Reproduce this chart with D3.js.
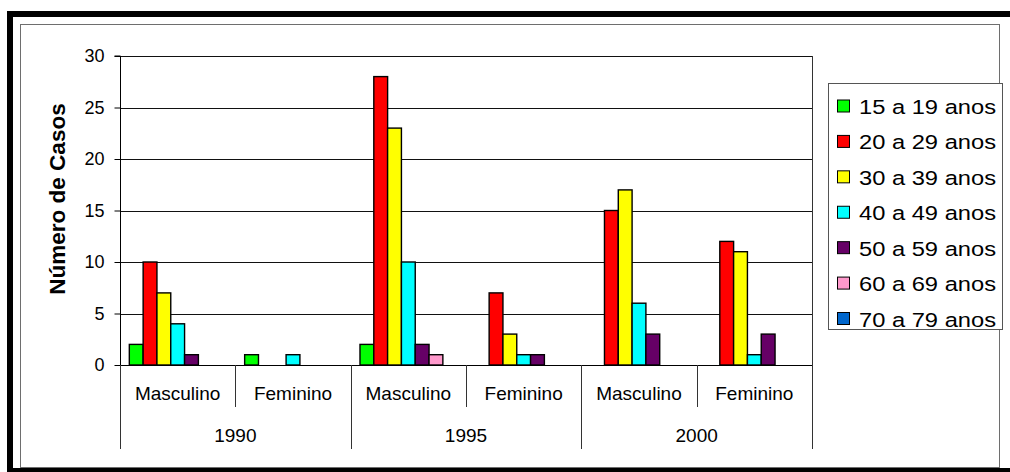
<!DOCTYPE html>
<html>
<head>
<meta charset="utf-8">
<script src="https://cdn.jsdelivr.net/npm/d3@7"></script>
<style>
  html, body { margin: 0; padding: 0; background: #fff; }
  svg { display: block; font-family: "Liberation Sans", Arial, sans-serif; }
</style>
</head>
<body>
<svg id="chart" width="1010" height="472"></svg>
<script>
// Categories: year x sex
const years = ["1990", "1995", "2000"];
const sexes = ["Masculino", "Feminino"];

// Age groups (series) and their colours
const ageGroups = ["15 a 19 anos", "20 a 29 anos", "30 a 39 anos", "40 a 49 anos",
                   "50 a 59 anos", "60 a 69 anos", "70 a 79 anos"];
const ageColors = ["#00ff00", "#ff0000", "#ffff00", "#00ffff", "#660066", "#ff99cc", "#0066cc"];

// Cases per category: 1990 M, 1990 F, 1995 M, 1995 F, 2000 M, 2000 F
const cases15to19 = [2, 1, 2, 0, 0, 0];
const cases20to29 = [10, 0, 28, 7, 15, 12];
const cases30to39 = [7, 0, 23, 3, 17, 11];
const cases40to49 = [4, 1, 10, 1, 6, 1];
const cases50to59 = [1, 0, 2, 1, 3, 3];
const cases60to69 = [0, 0, 1, 0, 0, 0];
const cases70to79 = [0, 0, 0, 0, 0, 0];

const yTicks = [0, 5, 10, 15, 20, 25, 30];
const yTitle = "Número de Casos";

const seriesValues = [cases15to19, cases20to29, cases30to39, cases40to49,
                      cases50to59, cases60to69, cases70to79];

const categories = [];
years.forEach(y => sexes.forEach(s => categories.push({ key: y + "|" + s, year: y, sex: s })));

const svg = d3.select("#chart");

// Outer frame: thick black border and thin inner line
svg.append("rect").attr("x", 10).attr("y", 14).attr("width", 1010).attr("height", 457)
  .attr("fill", "none").attr("stroke", "#000").attr("stroke-width", 6);
svg.append("rect").attr("x", 20.5).attr("y", 24.5).attr("width", 979).attr("height", 443)
  .attr("fill", "none").attr("stroke", "#6e6e6e").attr("stroke-width", 1);

// Plot area
const plot = { left: 120, right: 812, top: 56, bottom: 365 };

const x0 = d3.scaleBand()
  .domain(categories.map(c => c.key))
  .range([plot.left, plot.right])
  .padding(0);

const x1 = d3.scaleBand()
  .domain(ageGroups)
  .range([0, x0.bandwidth()])
  .paddingInner(0)
  .paddingOuter(0.675);

const y = d3.scaleLinear().domain([0, 30]).range([plot.bottom, plot.top]);

// Gridlines
svg.append("g")
  .selectAll("line")
  .data(yTicks.filter(t => t > 0))
  .join("line")
  .attr("x1", plot.left).attr("x2", plot.right)
  .attr("y1", d => Math.round(y(d)) + 0.5).attr("y2", d => Math.round(y(d)) + 0.5)
  .attr("stroke", "#111").attr("stroke-width", 1);

// Plot border (right side)
svg.append("line")
  .attr("x1", plot.right + 0.5).attr("x2", plot.right + 0.5)
  .attr("y1", plot.top).attr("y2", plot.bottom)
  .attr("stroke", "#333").attr("stroke-width", 1);

// Y axis
const yAxis = d3.axisLeft(y)
  .tickValues(yTicks)
  .tickSize(6)
  .tickPadding(10)
  .tickFormat(d3.format("d"));
const yAxisG = svg.append("g")
  .attr("transform", `translate(${plot.left + 0.5},0)`)
  .call(yAxis);
yAxisG.select(".domain").attr("stroke", "#000").attr("d", `M-6,${plot.top}H0V${plot.bottom}`);
yAxisG.selectAll(".tick line").attr("stroke", "#000");
yAxisG.selectAll(".tick text")
  .attr("fill", "#000")
  .style("font-size", "18px")
  .style("font-family", "'Liberation Sans', Arial, sans-serif");

// Y axis title
svg.append("text")
  .attr("transform", "translate(65,199) rotate(-90)")
  .attr("text-anchor", "middle")
  .style("font-size", "22.5px")
  .style("font-weight", "bold")
  .attr("fill", "#000")
  .text(yTitle);

// Bars
const barData = [];
categories.forEach((c, ci) => {
  ageGroups.forEach((g, gi) => {
    const v = seriesValues[gi][ci];
    if (v > 0) barData.push({ cat: c.key, group: g, value: v, color: ageColors[gi] });
  });
});

svg.append("g")
  .selectAll("rect")
  .data(barData)
  .join("rect")
  .attr("x", d => x0(d.cat) + x1(d.group))
  .attr("y", d => y(d.value))
  .attr("width", x1.bandwidth())
  .attr("height", d => y(0) - y(d.value))
  .attr("fill", d => d.color)
  .attr("stroke", "#000")
  .attr("stroke-width", 1.4);

// X axis baseline
svg.append("line")
  .attr("x1", plot.left).attr("x2", plot.right)
  .attr("y1", plot.bottom + 0.5).attr("y2", plot.bottom + 0.5)
  .attr("stroke", "#000");

// Category axis: inner dividers (sex) and outer dividers (year)
const axisG = svg.append("g");
categories.forEach((c, i) => {
  const xl = x0(c.key);
  const isYearStart = i % sexes.length === 0;
  axisG.append("line")
    .attr("x1", Math.round(xl) + 0.5).attr("x2", Math.round(xl) + 0.5)
    .attr("y1", plot.bottom).attr("y2", isYearStart ? 449 : 407)
    .attr("stroke", "#333");
  axisG.append("text")
    .attr("x", xl + x0.bandwidth() / 2)
    .attr("y", 400)
    .attr("text-anchor", "middle")
    .style("font-size", "19px")
    .attr("fill", "#000")
    .text(c.sex);
});
axisG.append("line")
  .attr("x1", plot.right + 0.5).attr("x2", plot.right + 0.5)
  .attr("y1", plot.bottom).attr("y2", 449)
  .attr("stroke", "#333");
years.forEach(yr => {
  const first = x0(yr + "|" + sexes[0]);
  const last = x0(yr + "|" + sexes[sexes.length - 1]) + x0.bandwidth();
  axisG.append("text")
    .attr("x", (first + last) / 2)
    .attr("y", 442)
    .attr("text-anchor", "middle")
    .style("font-size", "19px")
    .attr("fill", "#000")
    .text(yr);
});

// Legend
const legend = svg.append("g");
legend.append("rect")
  .attr("x", 828.5).attr("y", 83.5).attr("width", 174).attr("height", 246)
  .attr("fill", "#fff").attr("stroke", "#555").attr("stroke-width", 1);
const legendRow = d3.scalePoint().domain(ageGroups).range([106.5, 319]);
ageGroups.forEach((g, i) => {
  const cy = legendRow(g);
  legend.append("rect")
    .attr("x", 837.5).attr("y", cy - 6.5).attr("width", 12).attr("height", 12)
    .attr("fill", ageColors[i]).attr("stroke", "#000").attr("stroke-width", 1);
  legend.append("text")
    .attr("x", 859).attr("y", cy + 7.5)
    .style("font-size", "20.5px")
    .attr("fill", "#000")
    .attr("textLength", 137)
    .attr("lengthAdjust", "spacingAndGlyphs")
    .text(g);
});
</script>
</body>
</html>
